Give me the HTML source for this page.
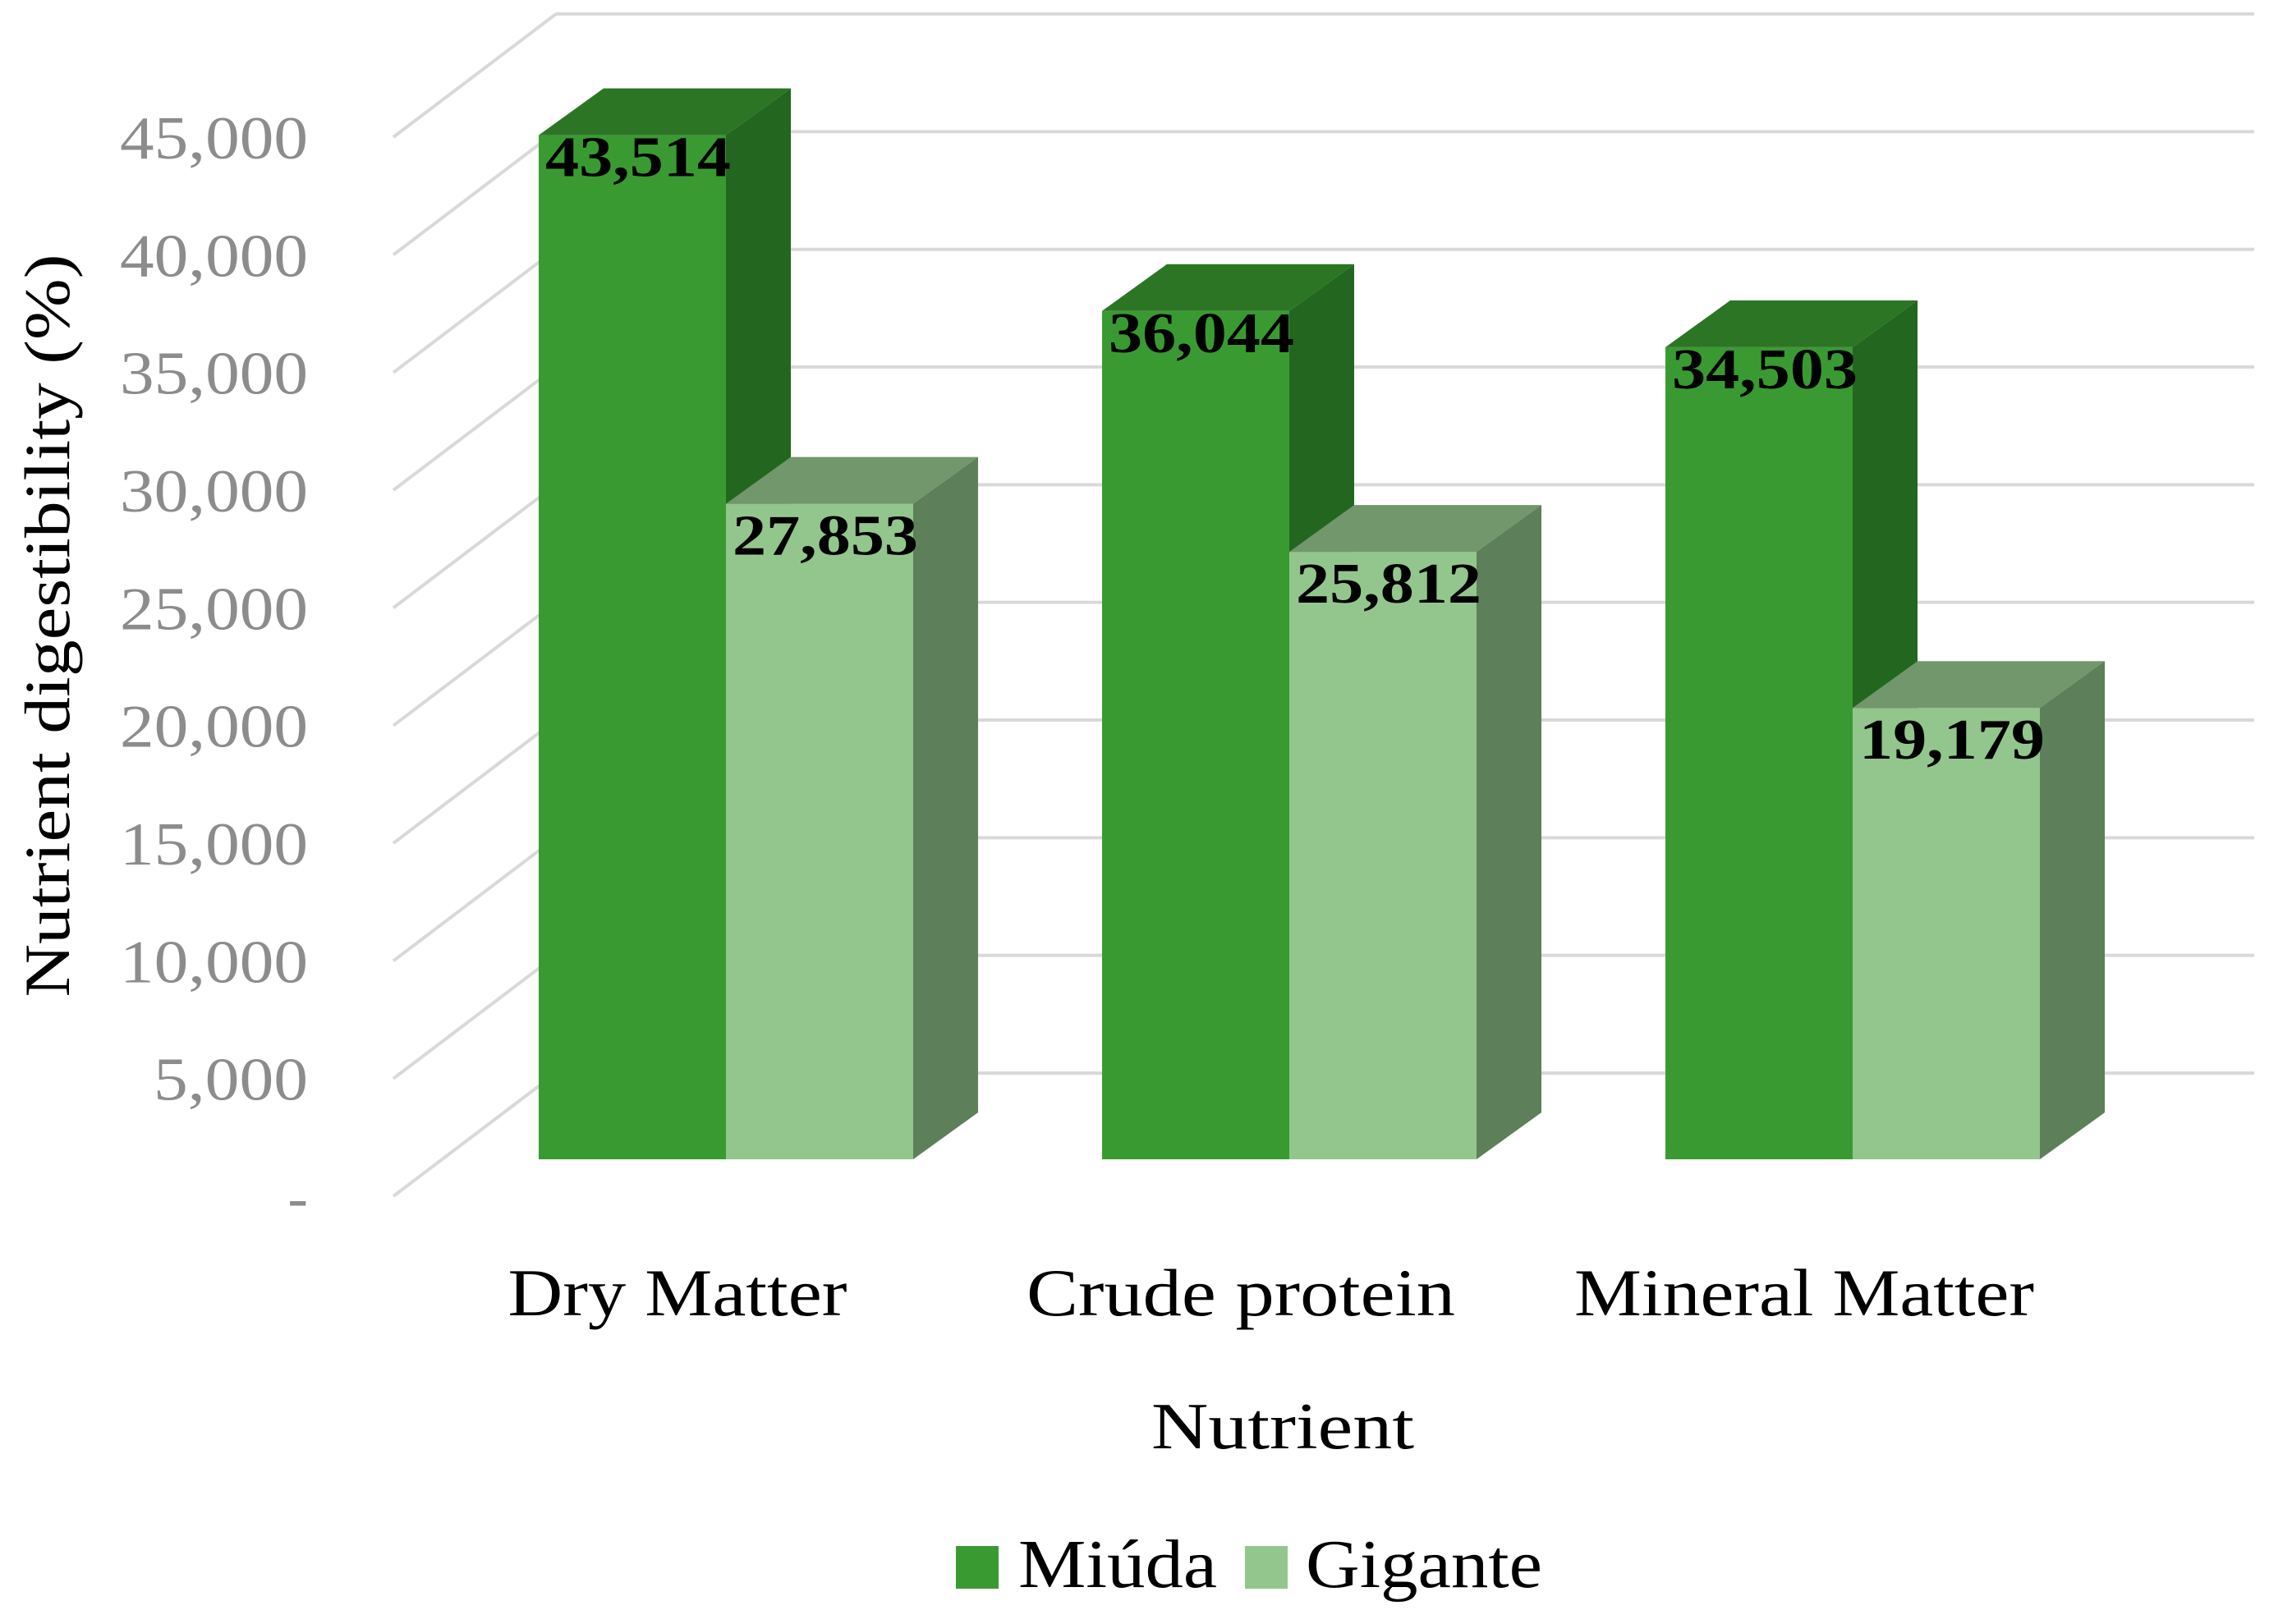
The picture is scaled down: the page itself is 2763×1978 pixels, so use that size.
<!DOCTYPE html>
<html><head><meta charset="utf-8"><style>
html,body{margin:0;padding:0;background:#fff;}
svg{display:block;font-family:"Liberation Serif",serif;}
</style></head><body>
<svg id="chart" width="2763" height="1978" viewBox="0 0 2763 1978" xmlns="http://www.w3.org/2000/svg">
<g id="grid"></g>
<g id="yticks"></g>
<g id="bars"></g>
<g id="xlabels"></g>
<text x="0" y="0" transform="translate(84,762) rotate(-90)" text-anchor="middle" font-size="78" fill="#000" textLength="905" lengthAdjust="spacingAndGlyphs">Nutrient digestibility (%)</text>
<text x="1562" y="1764" text-anchor="middle" font-size="80" fill="#000" textLength="320" lengthAdjust="spacingAndGlyphs">Nutrient</text>
<g>
<rect x="1164" y="1883" width="52" height="52" fill="#3a9a32"/>
<text x="1240" y="1933" font-size="84" textLength="242" lengthAdjust="spacingAndGlyphs">Miúda</text>
<rect x="1516" y="1883" width="52" height="52" fill="#93c68c"/>
<text x="1590" y="1933" font-size="84" textLength="288" lengthAdjust="spacingAndGlyphs">Gigante</text>
</g>
</svg>
<script>
const categories = ["Dry Matter", "Crude protein", "Mineral Matter"];
const miuda = [43514, 36044, 34503];
const gigante = [27853, 25812, 19179];
const valueLabelsMiuda = ["43,514", "36,044", "34,503"];
const valueLabelsGigante = ["27,853", "25,812", "19,179"];
const tickValues = [0, 5000, 10000, 15000, 20000, 25000, 30000, 35000, 40000, 45000];
const tickLabels = ["-", "5,000", "10,000", "15,000", "20,000", "25,000", "30,000", "35,000", "40,000", "45,000"];

const NS = "http://www.w3.org/2000/svg";
const PX = 143.33 / 5000;
const front0 = 1457, back0 = 1307, wallX0 = 479, wallX1 = 677, rightX = 2745;
const barBase = 1412, groupX0 = 656, groupStep = 686, barW = 228, depX = 79, depY = 57;
const catLen = [413, 522, 560];
function yFront(v){ return front0 - v * PX; }
function yBack(v){ return back0 - v * PX; }
function yBar(v){ return barBase - v * PX; }
function mk(tag, attrs, parent){ const e = document.createElementNS(NS, tag); for (const k in attrs) e.setAttribute(k, attrs[k]); parent.appendChild(e); return e; }

const grid = document.getElementById('grid');
const yt = document.getElementById('yticks');
tickValues.forEach((v, i) => {
  const l1 = mk('line', {x1: wallX0, y1: yFront(v), x2: wallX1, y2: yBack(v), stroke: '#d9d9d9', 'stroke-width': 4}, grid);
  
  
  const l2 = mk('line', {x1: wallX1, y1: yBack(v), x2: rightX, y2: yBack(v), stroke: '#d9d9d9', 'stroke-width': 4}, grid);
  
  
  const lab = tickLabels[i];
  const attrs = {x: 375, y: yFront(v) + 26, 'text-anchor': 'end', 'font-size': 74, fill: '#8c8c8c'};
  if (lab.length > 1) { attrs.textLength = lab.length >= 6 ? 229 : 188; attrs.lengthAdjust = 'spacingAndGlyphs'; }
  const t = mk('text', attrs, yt);
  
  
  t.textContent = lab;
});

const bars = document.getElementById('bars');
const series = [
  {vals: miuda, labels: valueLabelsMiuda, front: '#3a9a32', top: '#2c7524', side: '#236620', name: 'miuda'},
  {vals: gigante, labels: valueLabelsGigante, front: '#93c68c', top: '#72976c', side: '#5d7f5a', name: 'gigante'}
];
categories.forEach((c, ci) => {
  series.forEach((s, si) => {
    const x = groupX0 + ci * groupStep + si * barW;
    const yt2 = yBar(s.vals[ci]);
    const g = mk('g', {}, bars);
    
    
    mk('rect', {x: x, y: yt2, width: barW, height: barBase - yt2, fill: s.front}, g);
    mk('polygon', {points: `${x},${yt2} ${x+depX},${yt2-depY} ${x+barW+depX},${yt2-depY} ${x+barW},${yt2}`, fill: s.top}, g);
    mk('polygon', {points: `${x+barW},${yt2} ${x+barW+depX},${yt2-depY} ${x+barW+depX},${barBase-depY} ${x+barW},${barBase}`, fill: s.side}, g);
  });
  series.forEach((s, si) => {
    const x = groupX0 + ci * groupStep + si * barW;
    const yt2 = yBar(s.vals[ci]);
    const t = mk('text', {x: x + 8, y: yt2 + (si === 0 ? 50 : 62), 'font-size': 70, 'font-weight': 'bold', fill: '#000', textLength: 226, lengthAdjust: 'spacingAndGlyphs'}, bars);
    
    
    t.textContent = s.labels[ci];
  });
  const xl = mk('text', {x: groupX0 + ci * groupStep + 169, y: 1602, 'text-anchor': 'middle', 'font-size': 82, fill: '#000', textLength: catLen[ci], lengthAdjust: 'spacingAndGlyphs'}, document.getElementById('xlabels'));
  
  
  xl.textContent = c;
});
</script>
</body></html>
